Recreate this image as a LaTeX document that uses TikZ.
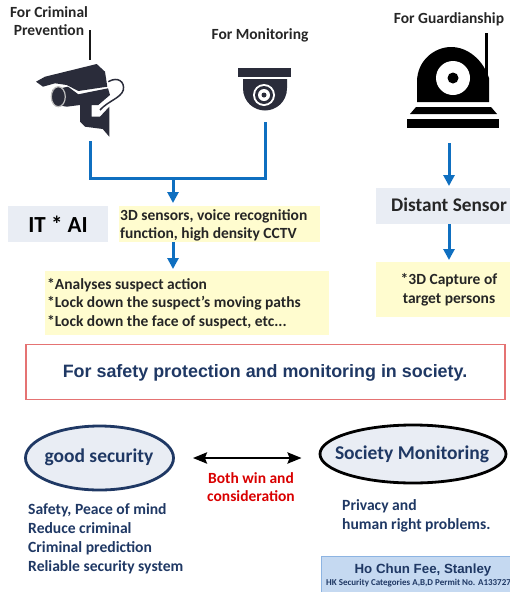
\documentclass[tikz,border=0pt]{standalone}
\usepackage{fontspec}
\setmainfont{Carlito}
\newfontfamily\headfont{Liberation Sans}
\usetikzlibrary{calc}
\usetikzlibrary{positioning}
\usetikzlibrary{arrows.meta}
\usetikzlibrary{shapes.geometric}
\definecolor{flowblue}{HTML}{0F6FC0}
\definecolor{paleblue}{HTML}{E9EDF4}
\definecolor{paleyellow}{HTML}{FFFCCF}
\definecolor{navyink}{HTML}{1F3864}
\definecolor{iconink}{HTML}{2A2C3A}
\definecolor{permitfill}{HTML}{C5D9F1}
\definecolor{permitedge}{HTML}{8DB4E2}
\definecolor{purposeedge}{HTML}{E57373}
\tikzstyle{flowline} = [draw=flowblue, line width=3pt]
\tikzstyle{flowarrow} = [flowline, -{Triangle[width=11pt,length=11pt]}]
\tikzstyle{sizedbox} = [inner sep=0pt, outer sep=0pt]
\tikzstyle{greybox} = [sizedbox, fill=paleblue, font=\bfseries\fontsize{23}{27}\selectfont]
\tikzstyle{notebox} = [sizedbox, fill=paleyellow]
\tikzstyle{notetext} = [inner sep=0pt, align=left, anchor=west, text=black!85, font=\bfseries\fontsize{15.5}{18.6}\selectfont]
\tikzstyle{toplabel} = [inner sep=0pt, align=center, text=black!85, font=\bfseries\fontsize{15.5}{18.6}\selectfont]
\tikzstyle{viewoval} = [draw, ellipse, fill=paleblue, line width=2.8pt, inner sep=0pt]
\tikzstyle{viewtext} = [inner sep=0pt, text=navyink, font=\bfseries\fontsize{19.5}{23}\selectfont]
\tikzstyle{listtext} = [inner sep=0pt, align=left, anchor=west, text=navyink, font=\bfseries\fontsize{15.6}{19}\selectfont]
\begin{document}
\begin{tikzpicture}[x=1pt, y=-1pt]
  \useasboundingbox (0,0) rectangle (510,592);
  % labels over the cameras
  \node[toplabel] (crimlabel) at (49,21) {For Criminal\\Prevention};
  \node[toplabel] (monlabel) at (260,35.5) {For Monitoring};
  \node[toplabel] (guardlabel) at (449,19) {For Guardianship};

  % camera on the left
  \draw[line width=2.5pt, black!90] (90,30) -- (90,60);
  \fill[iconink] (36,81.7) -- (45,76.7) -- (96.7,64) -- (105,71.7) -- (107.3,86.7) -- (78.3,91) -- (66.7,85) -- (55,83.3) -- (43,86.7) -- cycle;
  \fill[iconink] (68,86.7) -- (78.3,94.3) -- (108,88.3) -- (110,95) -- (98.3,105) -- (91.7,105) -- (91.7,116.7) -- (100,116.7) -- (109.3,106.7) -- (109.3,136.7) -- (102.7,129) -- (85,126.7) -- (80,121.7) -- (80,105) -- (66.7,106.7) -- (56.7,105) -- (52,90) -- cycle;
  \draw[line width=1.2pt, black!25, fill=iconink] (58.3,96.7) ellipse (7pt and 10pt);
  \draw[line width=1.5pt, iconink] (108.3,81.7) .. controls (118,76) and (125,82) .. (123.3,90) .. controls (121,98) and (108,101) .. (100,110);

  % dome camera
  \fill[iconink] (238,67.5) rectangle (291,76.5);
  \fill[iconink] (243,79) -- (287,79) -- (287,88) .. controls (287,102) and (276,110.5) .. (265,110.5) .. controls (254,110.5) and (243,102) .. (243,88) -- cycle;
  \fill[white] (264,95) circle (11pt);
  \fill[iconink] (264,95) circle (9pt);
  \fill[white] (264,95) circle (6pt);
  \fill[iconink] (264,95) circle (2.5pt);

  % guardianship camera
  \fill[black] (484.5,33) rectangle (488,80);
  \fill[black] (417,102) -- (417,82) .. controls (417,60) and (435,47) .. (451,47) .. controls (468,47) and (483,60) .. (489,78) -- (489,102) -- cycle;
  \fill[white] (453,78) circle (17pt);
  \fill[black] (453,78) circle (5.5pt);
  \fill[black] (410,114) -- (416,107) -- (491,107) -- (497,114) -- cycle;
  \fill[black] (407,119) rectangle (499,128);

  % boxes
  \node[greybox, minimum width=100pt, minimum height=36pt] (itai) at (58,224) {IT * AI};
  \node[notebox, minimum width=201pt, minimum height=36pt] (sensors) at (219.5,224) {};
  \node[notetext] (sensorstext) at (120,225.5) {3D sensors, voice recognition\\function, high density CCTV};
  \node[notebox, minimum width=284pt, minimum height=64pt] (actions) at (187,303) {};
  \node[notetext] (actionstext) at (47,303.5) {*Analyses suspect action\\*Lock down the suspect's moving paths\\*Lock down the face of suspect, etc...};
  \node[greybox, minimum width=134pt, minimum height=36pt] (distant) at (443,206) {};
  \node[inner sep=0pt, font=\bfseries\fontsize{19.3}{23}\selectfont, text=black!85] (distanttext) at (449,205) {Distant Sensor};
  \node[notebox, minimum width=134pt, minimum height=55pt] (capture) at (443,289.5) {};
  \node[toplabel] (capturetext) at (449,290) {*3D Capture of\\target persons};

  % blue connectors
  \coordinate (crimbot) at (90,141);
  \coordinate (monbot) at (265,122);
  \coordinate (crimcorner) at (90,178);
  \coordinate (moncorner) at (265,178);
  \coordinate (joint) at (173,178);
  \coordinate (guardbot) at (449,143);
  \draw[flowline, line join=miter] (crimbot) -- (crimcorner) -- (moncorner) -- (monbot);
  \draw[flowarrow, shorten >=3pt] (joint) -- (joint |- sensors.north);
  \draw[flowarrow, shorten >=2pt] (joint |- sensors.south) -- (joint |- actions.north);
  \draw[flowarrow, shorten >=2pt] (guardbot) -- (guardbot |- distant.north);
  \draw[flowarrow, shorten >=2pt] (guardbot |- distant.south) -- (guardbot |- capture.north);

  % red box
  \node[sizedbox, draw=purposeedge, line width=1.2pt, minimum width=479pt, minimum height=55pt] (purpose) at (265.5,372) {};
  \node[inner sep=0pt, text=navyink, font=\headfont\bfseries\fontsize{17.9}{21}\selectfont] (purposetext) at (265,372.5) {For safety protection and monitoring in society.};

  % the two views
  \node[viewoval, draw=navyink, minimum width=148pt, minimum height=64pt] (goodsec) at (99.5,458) {};
  \node[viewtext] (goodtext) at (99,457) {good security};
  \node[viewoval, draw=black, minimum width=186pt, minimum height=58pt] (socmon) at (413,454) {};
  \node[viewtext] (soctext) at (412,454) {Society Monitoring};
  \draw[line width=2.8pt, {Stealth[width=11pt,length=14pt,inset=2pt]}-{Stealth[width=11pt,length=14pt,inset=2pt]}, shorten <=18pt, shorten >=17pt] (goodsec.east) -- (goodsec.east -| socmon.west);
  \node[toplabel, text=red!85!black] (both) at (251,487) {Both win and\\consideration};
  \node[listtext] (goodlist) at (28,538.5) {Safety, Peace of mind\\Reduce criminal\\Criminal prediction\\Reliable security system};
  \node[listtext] (soclist) at (342,515.5) {Privacy and\\human right problems.};

  % permit box
  \node[sizedbox, draw=permitedge, fill=permitfill, line width=1pt, minimum width=200pt, minimum height=38pt] (permit) at (421.5,575) {};
  \node[inner sep=0pt, text=navyink, font=\headfont\bfseries\fontsize{13.3}{16}\selectfont] (permitname) at (423,570.5) {Ho Chun Fee, Stanley};
  \node[inner sep=0pt, anchor=west, text=navyink, font=\bfseries\fontsize{9}{11}\selectfont] (permitno) at (326,583) {HK Security Categories A,B,D Permit No. A133727};
\end{tikzpicture}
\end{document}
